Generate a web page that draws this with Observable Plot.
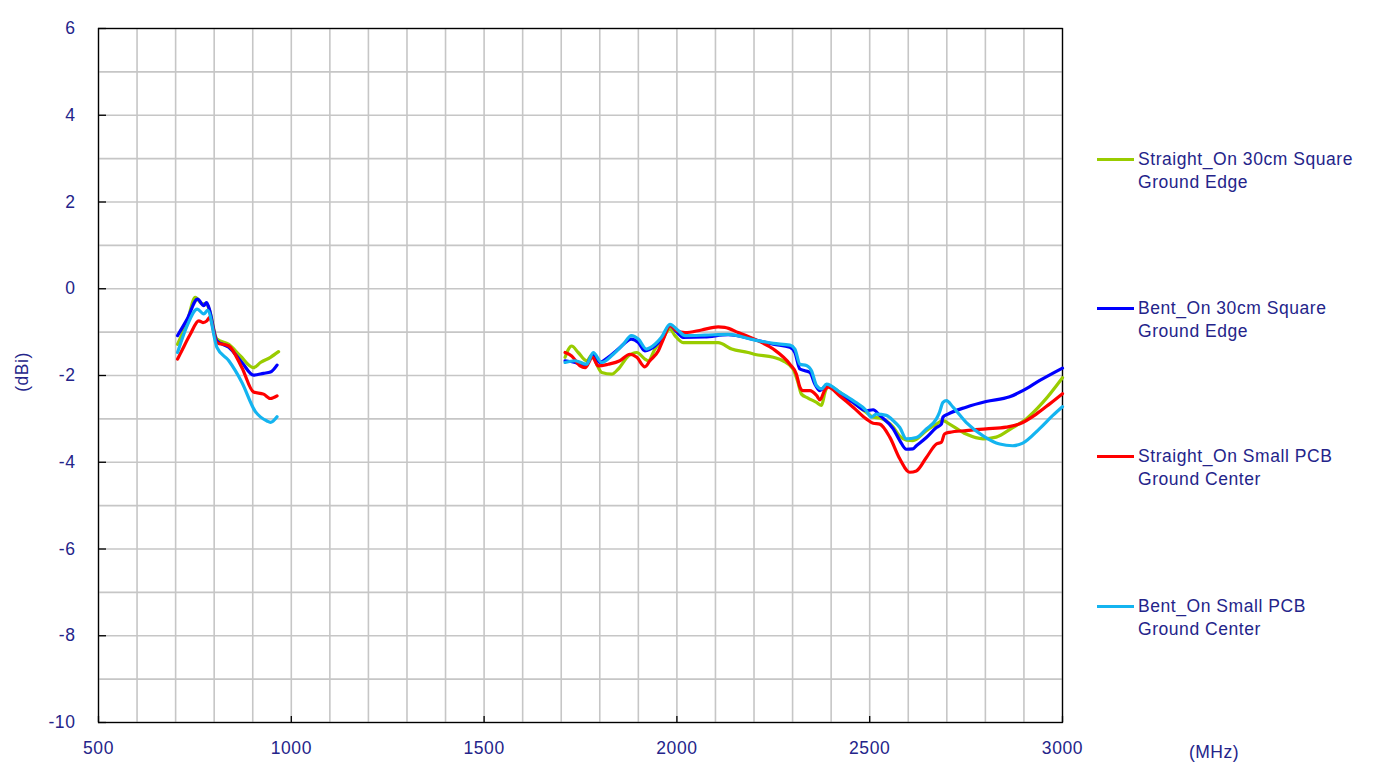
<!DOCTYPE html>
<html>
<head>
<meta charset="utf-8">
<script src="https://cdn.jsdelivr.net/npm/d3@7"></script>
<script src="https://cdn.jsdelivr.net/npm/@observablehq/plot@0.6"></script>
<style>
  html, body { margin: 0; padding: 0; background: #fff; }
  #wrap { position: relative; width: 1375px; height: 775px; font-family: "Liberation Sans", Arial, sans-serif; }
  #chart { position: absolute; left: 0; top: 0; }
  #chart svg text { letter-spacing: 0.6px; }
  .lab { position: absolute; color: #24248a; font-size: 17.5px; white-space: nowrap; letter-spacing: 0.5px; }
  .leg { position: absolute; left: 1097px; font-size: 17.5px; color: #24248a; line-height: 23px; letter-spacing: 0.55px; }
  .leg .sw { position: absolute; left: 0; top: 10px; width: 37px; height: 3px; }
  .leg .tx { position: absolute; left: 41px; top: 0; white-space: nowrap; }
</style>
</head>
<body>
<div id="wrap">
  <div id="chart"></div>
</div>
<script>
// ---- data ----
const seriesNames = [
  "Straight_On 30cm Square\nGround Edge",
  "Bent_On 30cm Square\nGround Edge",
  "Straight_On Small PCB\nGround Center",
  "Bent_On Small PCB\nGround Center"
];
const seriesColors = ["#99cc00", "#0000ff", "#ff0000", "#14b4f0"];

const greenLowFreq = [705, 730, 751, 769, 780, 788, 807, 838, 868, 902, 920, 946, 967];
const greenLowGain = [-1.28, -0.75, -0.2, -0.35, -0.35, -0.5, -1.16, -1.28, -1.55, -1.82, -1.7, -1.58, -1.45];
const blueLowFreq = [705, 730, 757, 773, 780, 786, 807, 838, 872, 902, 928, 946, 963];
const blueLowGain = [-1.08, -0.7, -0.24, -0.39, -0.32, -0.43, -1.2, -1.35, -1.7, -1.99, -1.95, -1.92, -1.76];
const redLowFreq = [705, 712, 738, 760, 771, 781, 788, 807, 838, 872, 902, 928, 946, 963];
const redLowGain = [-1.62, -1.5, -1.05, -0.74, -0.78, -0.74, -0.66, -1.24, -1.32, -1.82, -2.38, -2.43, -2.53, -2.47];
const cyanLowFreq = [705, 730, 756, 773, 783, 807, 838, 872, 906, 937, 946, 963];
const cyanLowGain = [-1.47, -0.85, -0.47, -0.58, -0.5, -1.35, -1.66, -2.16, -2.82, -3.05, -3.08, -2.95];

const greenHighFreq = [1710, 1727, 1744, 1766, 1781, 1792, 1805, 1831, 1848, 1874, 1896, 1917, 1926, 1943, 1960, 1982, 1995, 2016, 2072, 2107, 2142, 2185, 2200, 2250, 2275, 2301, 2314, 2323, 2340, 2362, 2375, 2384, 2392, 2423, 2457, 2491, 2509, 2526, 2561, 2578, 2595, 2612, 2647, 2673, 2690, 2707, 2750, 2794, 2828, 2871, 2906, 2949, 3000];
const greenHighGain = [-1.58, -1.32, -1.47, -1.66, -1.52, -1.74, -1.93, -1.97, -1.85, -1.55, -1.47, -1.62, -1.66, -1.39, -1.2, -0.93, -1.08, -1.24, -1.24, -1.24, -1.39, -1.47, -1.51, -1.58, -1.66, -1.85, -2.16, -2.43, -2.52, -2.62, -2.69, -2.39, -2.23, -2.39, -2.62, -2.85, -2.96, -2.98, -3.19, -3.4, -3.49, -3.5, -3.27, -3.12, -3.04, -3.12, -3.35, -3.46, -3.42, -3.2, -3.0, -2.62, -2.05];
const blueHighFreq = [1710, 1736, 1762, 1783, 1800, 1822, 1848, 1882, 1900, 1917, 1943, 1960, 1982, 2000, 2016, 2072, 2133, 2200, 2250, 2293, 2306, 2319, 2332, 2345, 2358, 2371, 2388, 2423, 2457, 2491, 2509, 2526, 2561, 2578, 2595, 2612, 2621, 2647, 2673, 2686, 2690, 2703, 2750, 2802, 2863, 2897, 2940, 3000];
const blueHighGain = [-1.66, -1.7, -1.78, -1.51, -1.7, -1.58, -1.39, -1.16, -1.24, -1.43, -1.32, -1.16, -0.85, -1.0, -1.12, -1.11, -1.06, -1.17, -1.28, -1.35, -1.47, -1.85, -1.89, -1.93, -2.2, -2.35, -2.23, -2.43, -2.62, -2.81, -2.79, -2.92, -3.23, -3.5, -3.7, -3.69, -3.62, -3.43, -3.2, -3.12, -2.96, -2.89, -2.73, -2.6, -2.49, -2.35, -2.12, -1.83];
const redHighFreq = [1710, 1727, 1749, 1762, 1781, 1796, 1822, 1852, 1878, 1896, 1917, 1930, 1952, 1965, 1982, 2000, 2021, 2064, 2107, 2124, 2159, 2200, 2250, 2293, 2310, 2319, 2327, 2345, 2362, 2371, 2384, 2392, 2423, 2457, 2491, 2509, 2526, 2552, 2578, 2604, 2621, 2647, 2673, 2686, 2694, 2707, 2750, 2802, 2854, 2888, 2932, 2966, 3000];
const redHighGain = [-1.47, -1.55, -1.78, -1.82, -1.58, -1.78, -1.74, -1.66, -1.51, -1.58, -1.8, -1.66, -1.43, -1.16, -0.85, -0.97, -1.01, -0.95, -0.88, -0.89, -1.01, -1.16, -1.39, -1.74, -1.97, -2.27, -2.35, -2.35, -2.46, -2.56, -2.33, -2.27, -2.48, -2.73, -3.0, -3.1, -3.12, -3.42, -3.92, -4.23, -4.2, -3.89, -3.58, -3.54, -3.35, -3.31, -3.27, -3.23, -3.19, -3.12, -2.89, -2.66, -2.42];
const cyanHighFreq = [1710, 1736, 1766, 1783, 1805, 1835, 1861, 1882, 1900, 1921, 1943, 1960, 1982, 2004, 2021, 2072, 2133, 2200, 2250, 2293, 2306, 2319, 2336, 2349, 2362, 2375, 2388, 2423, 2457, 2491, 2504, 2517, 2543, 2561, 2578, 2595, 2621, 2647, 2673, 2681, 2690, 2699, 2716, 2750, 2794, 2837, 2871, 2897, 2940, 2975, 3000];
const cyanHighGain = [-1.7, -1.66, -1.74, -1.47, -1.7, -1.51, -1.28, -1.08, -1.16, -1.39, -1.28, -1.12, -0.82, -0.97, -1.08, -1.07, -1.05, -1.18, -1.26, -1.3, -1.39, -1.74, -1.77, -1.89, -2.23, -2.31, -2.2, -2.39, -2.58, -2.81, -2.96, -2.89, -2.92, -3.04, -3.2, -3.46, -3.43, -3.23, -3.0, -2.85, -2.62, -2.58, -2.73, -3.08, -3.39, -3.58, -3.62, -3.56, -3.23, -2.92, -2.72];

const xTickValues = [500, 1000, 1500, 2000, 2500, 3000];
const yTickValues = [6, 4, 2, 0, -2, -4, -6, -8, -10];
const xGridValues = d3.range(500, 3001, 100);
const yGridValues = d3.range(-10, 6.01, 1);

// ---- build table ----
const segments = [
  [0, "low", greenLowFreq, greenLowGain], [0, "high", greenHighFreq, greenHighGain],
  [1, "low", blueLowFreq, blueLowGain], [1, "high", blueHighFreq, blueHighGain],
  [2, "low", redLowFreq, redLowGain], [2, "high", redHighFreq, redHighGain],
  [3, "low", cyanLowFreq, cyanLowGain], [3, "high", cyanHighFreq, cyanHighGain]
];
const rows = [];
for (const [si, seg, fs, gs] of segments) {
  fs.forEach((f, i) => rows.push({series: seriesNames[si], key: si + "-" + seg, freq: f, gain: gs[i]}));
}

const W = 1375, H = 775;
const mL = 98, mR = 313, mT = 28, mB = 53;
const innerW = W - mL - mR, innerH = H - mT - mB;
const textColor = "#24248a";
const plain = d => String(d);

const chart = Plot.plot({
  width: W, height: H,
  marginLeft: mL, marginRight: mR, marginTop: mT, marginBottom: mB,
  style: {fontFamily: "'Liberation Sans', Arial, sans-serif", fontSize: "17.5px", background: "white"},
  x: {domain: [500, 3000], axis: null},
  y: {domain: [-10, 6], axis: null},
  color: {domain: seriesNames, range: seriesColors},
  marks: [
    Plot.ruleX(xGridValues, {x: d => d, stroke: "#c6c6c6", strokeWidth: 1.6}),
    Plot.ruleY(yGridValues, {y: d => d, stroke: "#c6c6c6", strokeWidth: 1.6}),
    Plot.frame({stroke: "#000", strokeWidth: 1.3}),
    Plot.tickY(yTickValues, {y: d => d, stroke: "#000", strokeWidth: 1.3, insetRight: innerW - 8}),
    Plot.tickX(xTickValues, {x: d => d, stroke: "#000", strokeWidth: 1.3, insetTop: innerH - 6}),
    Plot.axisY({ticks: yTickValues, tickFormat: plain, tickSize: 0, tickPadding: 23, fill: textColor, fontSize: 17.5, label: null}),
    Plot.axisX({ticks: xTickValues, tickFormat: plain, tickSize: 0, tickPadding: 19, fill: textColor, fontSize: 17.5, label: null}),
    Plot.line(rows, {x: "freq", y: "gain", z: "key", stroke: "series", strokeWidth: 3.2, curve: "monotone-x", strokeLinejoin: "round", strokeLinecap: "round"})
  ]
});
document.getElementById("chart").appendChild(chart);

const wrap = document.getElementById("wrap");
// axis titles
const yl = document.createElement("div");
yl.className = "lab";
yl.textContent = "(dBi)";
yl.style.left = "22px"; yl.style.top = "372px";
yl.style.transform = "translate(-50%, -50%) rotate(-90deg)";
wrap.appendChild(yl);
const xl = document.createElement("div");
xl.className = "lab";
xl.textContent = "(MHz)";
xl.style.left = "1214px"; xl.style.top = "752px";
xl.style.transform = "translate(-50%, -50%)";
wrap.appendChild(xl);

// legend
const legendTops = [148, 297, 445, 595];
seriesNames.forEach((name, i) => {
  const el = document.createElement("div");
  el.className = "leg";
  el.style.top = legendTops[i] + "px";
  const sw = document.createElement("div");
  sw.className = "sw";
  sw.style.background = seriesColors[i];
  const tx = document.createElement("div");
  tx.className = "tx";
  tx.innerHTML = name.split("\n").join("<br>");
  el.appendChild(sw); el.appendChild(tx);
  wrap.appendChild(el);
});
</script>
</body>
</html>
